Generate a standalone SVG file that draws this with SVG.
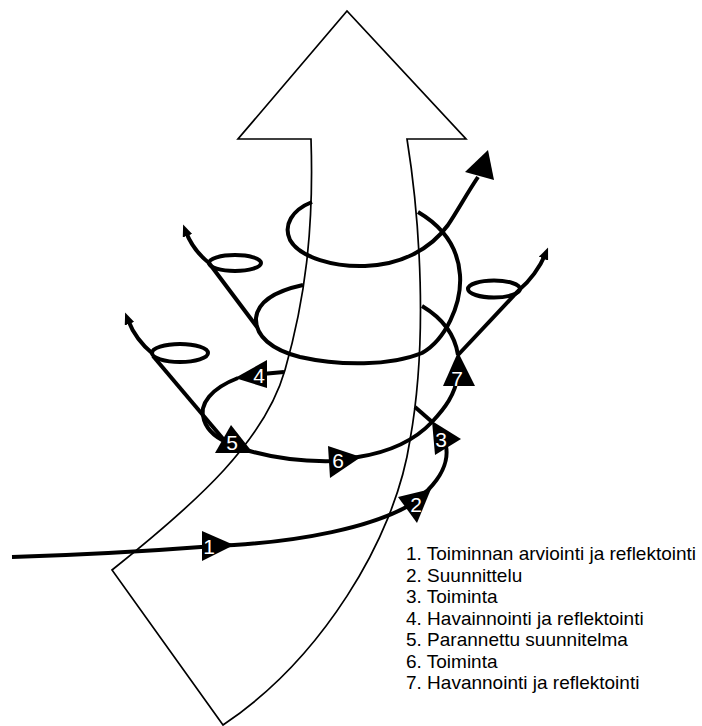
<svg xmlns="http://www.w3.org/2000/svg" width="702" height="726" viewBox="0 0 702 726">
<defs>
<style>
.big{fill:#fff;stroke:#000;stroke-width:1.7;stroke-linejoin:miter}
.ln{fill:none;stroke:#000;stroke-width:4;stroke-linecap:butt}
.tri{fill:#000;stroke:none}
.num{fill:#fff;font-family:"Liberation Sans",Arial,sans-serif;font-size:21px;text-anchor:middle}
.leg{fill:#000;font-family:"Liberation Sans",Arial,sans-serif;font-size:19px}
</style>
<marker id="ah" viewBox="0 0 12 10" markerWidth="12" markerHeight="10" refX="4" refY="5" orient="auto" markerUnits="userSpaceOnUse">
<path d="M0,0 L12,5 L0,10 z" fill="#000"/>
</marker>
</defs>
<g id="big-arrow">
<path class="big" d="M311,139 L238,139 L347,11 L466,139 L407,139 C420,220 428,340 410,440 C395,540 320,660 223,725 L112,570 C200,500 265,440 285,370 C305,300 314,230 311,139 Z"/>
</g>
<g id="connectors">
<path class="ln" d="M12,557 C80,555 150,551 215,546 L234,545 C300,541 370,528 410,505 L428,490 C440,478 449,462 446,446"/>
<path class="ln" d="M431,421 L415,407"/>
<path class="ln" d="M284,372 L262,374"/>
<path class="ln" d="M238,378 C212,388 198,404 204,420 C208,432 220,440 232,444"/>
<path class="ln" d="M153,356 L224,440"/>
<path class="ln" d="M240,448 C270,458 300,462 335,461 L358,457 C390,452 415,440 432,422 C445,408 455,395 458,375"/>
<path class="ln" d="M458,355 C455,335 442,318 422,306"/>
<path class="ln" d="M458,355 L519,290"/>
<path class="ln" d="M303,285 C280,290 258,300 256,318 C255,336 272,350 300,357 C340,366 390,366 422,353 C445,340 462,305 460,275 C458,245 440,225 418,212"/>
<path class="ln" d="M257,327 L209,263"/>
<path class="ln" d="M312,202 C292,210 283,225 290,240 C300,258 335,267 365,266 C400,265 430,250 448,225 C458,210 466,195 478,177"/>
<polygon class="tri" points="465,172 488,150 494,180"/>
<ellipse class="ln" cx="180" cy="353" rx="28" ry="9"/>
<ellipse class="ln" cx="235" cy="263" rx="26" ry="8"/>
<ellipse class="ln" cx="494" cy="289" rx="26" ry="8.5"/>
<path class="ln" d="M153,354 C142,345 133,333 128,320" marker-end="url(#ah)"/>
<path class="ln" d="M209,263 C199,255 191,245 186,232" marker-end="url(#ah)"/>
<path class="ln" d="M519,290 C530,281 540,267 545,255" marker-end="url(#ah)"/>
</g>
<g id="step1"><polygon class="tri" points="202,531 202,561 234,545"/><text class="num" x="209" y="554">1</text></g>
<g id="step2"><polygon class="tri" points="398,497 431,489 417,523"/><text class="num" x="416" y="512">2</text></g>
<g id="step3"><polygon class="tri" points="432,421 461,439 435,455"/><text class="num" x="441" y="447">3</text></g>
<g id="step4"><polygon class="tri" points="267,360 267,388 235,378"/><text class="num" x="259" y="383">4</text></g>
<g id="step5"><polygon class="tri" points="231,425 253,453 215,453"/><text class="num" x="232" y="450">5</text></g>
<g id="step6"><polygon class="tri" points="328,446 361,457 330,478"/><text class="num" x="338" y="468">6</text></g>
<g id="step7"><polygon class="tri" points="458,352 475,386 443,386"/><text class="num" x="457" y="386">7</text></g>
<g id="legend">
<text class="leg" x="406" y="560">1. Toiminnan arviointi ja reflektointi</text>
<text class="leg" x="406" y="581.5">2. Suunnittelu</text>
<text class="leg" x="406" y="603">3. Toiminta</text>
<text class="leg" x="406" y="624.5">4. Havainnointi ja reflektointi</text>
<text class="leg" x="406" y="646">5. Parannettu suunnitelma</text>
<text class="leg" x="406" y="667.5">6. Toiminta</text>
<text class="leg" x="406" y="689">7. Havannointi ja reflektointi</text>
</g>
</svg>
